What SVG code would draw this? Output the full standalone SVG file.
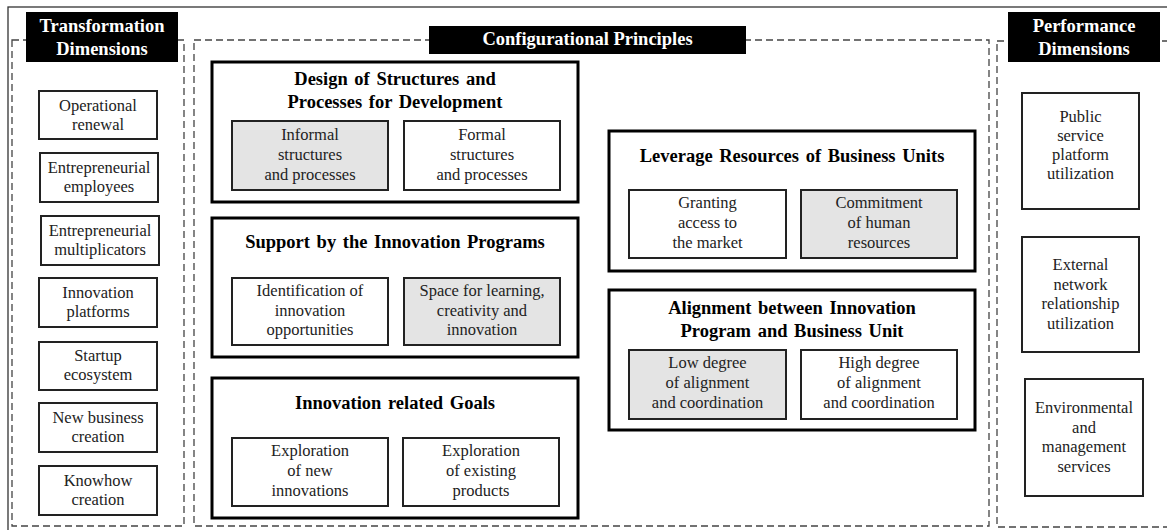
<svg xmlns="http://www.w3.org/2000/svg" width="1167" height="530" viewBox="0 0 1167 530">
  <style>
    .frame { fill: none; stroke: #333; stroke-width: 1.3; }
    .dash { fill: none; stroke: #444; stroke-width: 1.3; stroke-dasharray: 7 4; }
    .hdr { fill: #000; }
    .hdrtxt { font-family: "Liberation Serif", serif; font-weight: bold; font-size: 18.5px; fill: #fff; text-anchor: middle; }
    .group { fill: #fff; stroke: #000; stroke-width: 3; }
    .title { font-family: "Liberation Serif", serif; font-weight: bold; font-size: 18.5px; fill: #000; text-anchor: middle; word-spacing: 2px; }
    .box { fill: #fff; stroke: #222; stroke-width: 2; }
    .shade { fill: #e4e4e4; stroke: #222; stroke-width: 2; }
    .lbl { font-family: "Liberation Serif", serif; font-size: 16.5px; fill: #222; text-anchor: middle; }
  </style>
  <rect width="1167" height="530" fill="#fff"/>

  <!-- outer frame -->
  <rect class="frame" x="8" y="7" width="1170" height="540"/>

  <!-- dashed column areas -->
  <g id="columns">
    <rect class="dash" x="12" y="40" width="172" height="486"/>
    <rect class="dash" x="194" y="40" width="795" height="486"/>
    <rect class="dash" x="997" y="41" width="190" height="486"/>
  </g>

  <!-- column headers -->
  <g id="hdr-transformation">
    <rect class="hdr" x="26" y="12" width="152" height="50"/>
    <text class="hdrtxt" x="102" y="32">Transformation</text>
    <text class="hdrtxt" x="102" y="55">Dimensions</text>
  </g>
  <g id="hdr-configurational">
    <rect class="hdr" x="429" y="26" width="317" height="28"/>
    <text class="hdrtxt" x="587.5" y="45">Configurational Principles</text>
  </g>
  <g id="hdr-performance">
    <rect class="hdr" x="1008" y="12" width="152" height="50"/>
    <text class="hdrtxt" x="1084" y="32">Performance</text>
    <text class="hdrtxt" x="1084" y="55">Dimensions</text>
  </g>

  <!-- transformation dimensions -->
  <g id="t-operational">
    <rect class="box" x="39" y="91" width="118" height="48"/>
    <text class="lbl" x="98" y="111">Operational</text>
    <text class="lbl" x="98" y="130">renewal</text>
  </g>
  <g id="t-employees">
    <rect class="box" x="40" y="153" width="118" height="49"/>
    <text class="lbl" x="99" y="173">Entrepreneurial</text>
    <text class="lbl" x="99" y="192">employees</text>
  </g>
  <g id="t-multiplicators">
    <rect class="box" x="41" y="216" width="118" height="49"/>
    <text class="lbl" x="100" y="236">Entrepreneurial</text>
    <text class="lbl" x="100" y="255">multiplicators</text>
  </g>
  <g id="t-platforms">
    <rect class="box" x="39" y="278" width="118" height="49"/>
    <text class="lbl" x="98" y="298">Innovation</text>
    <text class="lbl" x="98" y="317">platforms</text>
  </g>
  <g id="t-startup">
    <rect class="box" x="39" y="342" width="118" height="48"/>
    <text class="lbl" x="98" y="361">Startup</text>
    <text class="lbl" x="98" y="380">ecosystem</text>
  </g>
  <g id="t-newbusiness">
    <rect class="box" x="39" y="403" width="118" height="49"/>
    <text class="lbl" x="98" y="423">New business</text>
    <text class="lbl" x="98" y="442">creation</text>
  </g>
  <g id="t-knowhow">
    <rect class="box" x="39" y="466" width="118" height="49"/>
    <text class="lbl" x="98" y="486">Knowhow</text>
    <text class="lbl" x="98" y="505">creation</text>
  </g>

  <!-- configurational principles: left stack -->
  <g id="c-design">
    <rect class="group" x="212" y="62" width="366" height="140"/>
    <text class="title" x="395" y="85">Design of Structures and</text>
    <text class="title" x="395" y="108">Processes for Development</text>
    <rect class="shade" x="232" y="121" width="156" height="69"/>
    <text class="lbl" x="310" y="140">Informal</text>
    <text class="lbl" x="310" y="160">structures</text>
    <text class="lbl" x="310" y="180">and processes</text>
    <rect class="box" x="404" y="121" width="156" height="69"/>
    <text class="lbl" x="482" y="140">Formal</text>
    <text class="lbl" x="482" y="160">structures</text>
    <text class="lbl" x="482" y="180">and processes</text>
  </g>
  <g id="c-support">
    <rect class="group" x="212" y="218" width="366" height="139"/>
    <text class="title" x="395" y="248">Support by the Innovation Programs</text>
    <rect class="box" x="232" y="278" width="156" height="67"/>
    <text class="lbl" x="310" y="296">Identification of</text>
    <text class="lbl" x="310" y="316">innovation</text>
    <text class="lbl" x="310" y="335">opportunities</text>
    <rect class="shade" x="404" y="278" width="156" height="67"/>
    <text class="lbl" x="482" y="296">Space for learning,</text>
    <text class="lbl" x="482" y="316">creativity and</text>
    <text class="lbl" x="482" y="335">innovation</text>
  </g>
  <g id="c-goals">
    <rect class="group" x="212" y="378" width="366" height="140"/>
    <text class="title" x="395" y="409">Innovation related Goals</text>
    <rect class="box" x="232" y="438" width="156" height="68"/>
    <text class="lbl" x="310" y="456">Exploration</text>
    <text class="lbl" x="310" y="476">of new</text>
    <text class="lbl" x="310" y="496">innovations</text>
    <rect class="box" x="403" y="438" width="156" height="68"/>
    <text class="lbl" x="481" y="456">Exploration</text>
    <text class="lbl" x="481" y="476">of existing</text>
    <text class="lbl" x="481" y="496">products</text>
  </g>

  <!-- configurational principles: right stack -->
  <g id="c-leverage">
    <rect class="group" x="609" y="131" width="366" height="140"/>
    <text class="title" x="792" y="162">Leverage Resources of Business Units</text>
    <rect class="box" x="629" y="190" width="157" height="68"/>
    <text class="lbl" x="707.5" y="208">Granting</text>
    <text class="lbl" x="707.5" y="228">access to</text>
    <text class="lbl" x="707.5" y="248">the market</text>
    <rect class="shade" x="801" y="190" width="156" height="68"/>
    <text class="lbl" x="879" y="208">Commitment</text>
    <text class="lbl" x="879" y="228">of human</text>
    <text class="lbl" x="879" y="248">resources</text>
  </g>
  <g id="c-alignment">
    <rect class="group" x="609" y="290" width="366" height="140"/>
    <text class="title" x="792" y="314">Alignment between Innovation</text>
    <text class="title" x="792" y="337">Program and Business Unit</text>
    <rect class="shade" x="629" y="350" width="157" height="69"/>
    <text class="lbl" x="707.5" y="368">Low degree</text>
    <text class="lbl" x="707.5" y="388">of alignment</text>
    <text class="lbl" x="707.5" y="408">and coordination</text>
    <rect class="box" x="801" y="350" width="156" height="69"/>
    <text class="lbl" x="879" y="368">High degree</text>
    <text class="lbl" x="879" y="388">of alignment</text>
    <text class="lbl" x="879" y="408">and coordination</text>
  </g>

  <!-- performance dimensions -->
  <g id="p-platform">
    <rect class="box" x="1022" y="93" width="117" height="116"/>
    <text class="lbl" x="1080.5" y="122">Public</text>
    <text class="lbl" x="1080.5" y="141">service</text>
    <text class="lbl" x="1080.5" y="160">platform</text>
    <text class="lbl" x="1080.5" y="179">utilization</text>
  </g>
  <g id="p-network">
    <rect class="box" x="1022" y="237" width="117" height="115"/>
    <text class="lbl" x="1080.5" y="270">External</text>
    <text class="lbl" x="1080.5" y="290">network</text>
    <text class="lbl" x="1080.5" y="309">relationship</text>
    <text class="lbl" x="1080.5" y="329">utilization</text>
  </g>
  <g id="p-services">
    <rect class="box" x="1025" y="379" width="118" height="117"/>
    <text class="lbl" x="1084" y="413">Environmental</text>
    <text class="lbl" x="1084" y="433">and</text>
    <text class="lbl" x="1084" y="452">management</text>
    <text class="lbl" x="1084" y="472">services</text>
  </g>

  <!-- no connectors in this figure -->
  <g id="connectors"/>
</svg>
